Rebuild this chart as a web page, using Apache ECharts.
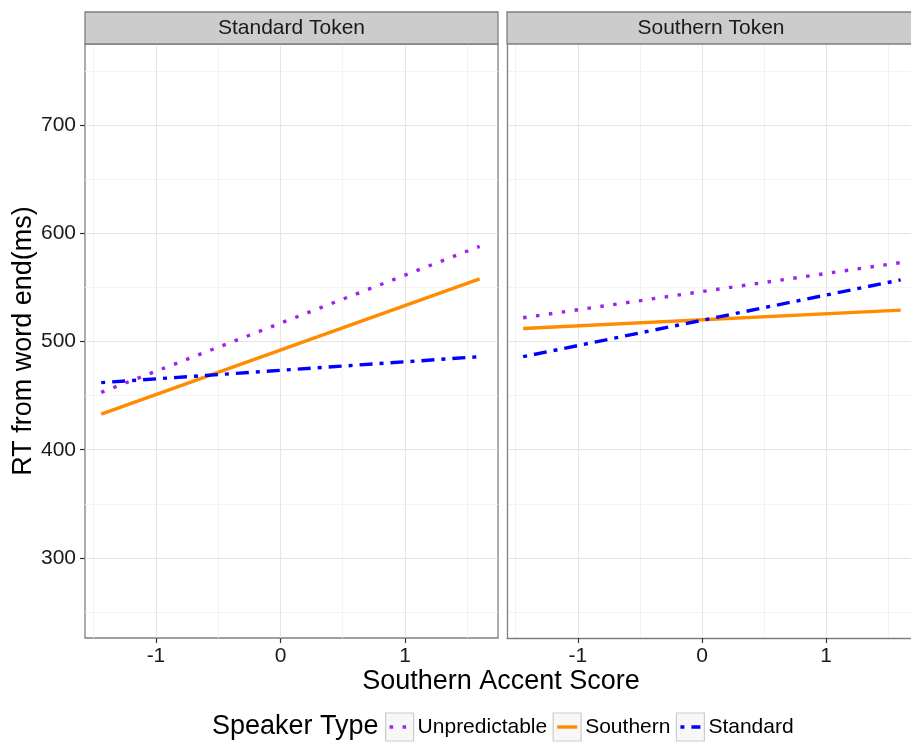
<!DOCTYPE html>
<html><head><meta charset="utf-8">
<script src="https://cdn.jsdelivr.net/npm/echarts@6/dist/echarts.min.js"></script>
<style>html,body{margin:0;padding:0;background:#fff}#c{width:911px;height:744px}</style>
</head><body><div id="c"></div>
<script>
// ---- data ----
const panels = ['Standard Token', 'Southern Token'];
const speakerTypes = ['Unpredictable', 'Southern', 'Standard'];
const xEnds = [-1.44, 1.6];
// fitted line end values per panel: [value at xEnds[0], value at xEnds[1]]
const unpredictableVals = [[453, 588], [522, 573]];
const southernVals = [[433, 558], [512, 529]];
const standardVals = [[462, 486], [486, 557]];
const yTicks = [300, 400, 500, 600, 700];
const yMinor = [250, 350, 450, 550, 650, 750];
const xTicks = [-1, 0, 1];
const xMinor = [-1.5, -0.5, 0.5, 1.5];
const xTitle = 'Southern Accent Score';
const yTitle = 'RT from word end(ms)';
const legendTitle = 'Speaker Type';

// ---- styles ----
const FONT = '"Liberation Sans", Arial, Helvetica, sans-serif';
const seriesValues = [unpredictableVals, southernVals, standardVals];
const seriesStyles = [
  {color: '#A020F0', type: [3.5, 9.5]},
  {color: '#FF8C00', type: 'solid'},
  {color: '#0000FF', type: [4, 7, 13, 7]}
];
const LW = 3.4;
const PX_PER_UNIT = 124.5;
const X_MIN = -1.57, Y_MIN = 226, Y_MAX = 775;
const BORDER = '#7f7f7f';
const gridBoxes = [
  {left: 85, top: 44, width: 413, height: 594, stripCenter: 291.5, box: true},
  {left: 507, top: 44, width: 405, height: 594, stripCenter: 711, box: false}
];

const chart = echarts.init(document.getElementById('c'), null, {renderer: 'canvas'});

const grids = gridBoxes.map(g => ({
  left: g.left, top: g.top, width: g.width, height: g.height,
  show: g.box, borderColor: BORDER, borderWidth: 1.3, backgroundColor: 'transparent',
  containLabel: false
}));

const xAxes = [], yAxes = [];
gridBoxes.forEach((g, i) => {
  const xMax = X_MIN + g.width / PX_PER_UNIT;
  xAxes.push({
    type: 'value', gridIndex: i, min: X_MIN, max: xMax,
    axisLine: {show: !g.box, onZero: false, lineStyle: {color: BORDER, width: 1.3}},
    axisTick: {show: true, length: 5, customValues: xTicks, lineStyle: {color: '#333', width: 1.2}},
    axisLabel: {show: true, customValues: xTicks, fontSize: 21, color: '#1a1a1a', fontFamily: FONT, margin: 8},
    splitLine: {show: true, lineStyle: {color: '#e5e5e5', width: 1.1}},
    z: 2
  });
  xAxes.push({
    type: 'value', gridIndex: i, min: X_MIN, max: xMax,
    axisLine: {show: false, onZero: false},
    axisTick: {show: false, customValues: xMinor},
    axisLabel: {show: false, customValues: xMinor},
    splitLine: {show: true, lineStyle: {color: '#f3f3f3', width: 1}},
    z: 1
  });
  yAxes.push({
    type: 'value', gridIndex: i, min: Y_MIN, max: Y_MAX,
    axisLine: {show: !g.box, onZero: false, lineStyle: {color: BORDER, width: 1.3}},
    axisTick: {show: i === 0, length: 5, customValues: yTicks, lineStyle: {color: '#333', width: 1.2}},
    axisLabel: {show: i === 0, customValues: yTicks, fontSize: 21, color: '#1a1a1a', fontFamily: FONT, margin: 9},
    splitLine: {show: true, lineStyle: {color: '#e5e5e5', width: 1.1}},
    name: i === 0 ? yTitle : '',
    nameLocation: 'middle', nameGap: 47,
    nameTextStyle: {fontSize: 27, color: '#000', fontFamily: FONT},
    z: 2
  });
  yAxes.push({
    type: 'value', gridIndex: i, min: Y_MIN, max: Y_MAX,
    axisLine: {show: false, onZero: false},
    axisTick: {show: false, customValues: yMinor},
    axisLabel: {show: false, customValues: yMinor},
    splitLine: {show: true, lineStyle: {color: '#f3f3f3', width: 1}},
    z: 1
  });
});

const series = [];
speakerTypes.forEach((name, s) => {
  gridBoxes.forEach((g, p) => {
    const v = seriesValues[s][p];
    series.push({
      type: 'line', name: name,
      xAxisIndex: p * 2, yAxisIndex: p * 2,
      data: [[xEnds[0], v[0]], [xEnds[1], v[1]]],
      symbol: 'none', silent: true, animation: false,
      lineStyle: {color: seriesStyles[s].color, width: LW, type: seriesStyles[s].type, cap: 'butt'},
      z: 5
    });
  });
});

// ---- graphics: strips, x title, legend ----
const graphics = [];
gridBoxes.forEach((g, i) => {
  graphics.push({
    type: 'rect', shape: {x: g.left, y: 12, width: g.box ? g.width : g.width + 10, height: 32},
    style: {fill: '#cccccc', stroke: BORDER, lineWidth: 1.3}, z: 10
  });
  graphics.push({
    type: 'text', x: g.stripCenter, y: 28,
    style: {text: panels[i], fill: '#1a1a1a', font: '21px ' + FONT, textAlign: 'center', textVerticalAlign: 'middle'}, z: 11
  });
});
graphics.push({
  type: 'text', x: 501, y: 682,
  style: {text: xTitle, fill: '#000', font: '27px ' + FONT, textAlign: 'center', textVerticalAlign: 'middle'}, z: 11
});

const cv = document.createElement('canvas').getContext('2d');
function tw(t, size) { cv.font = size + 'px ' + FONT; return cv.measureText(t).width; }
const LY = 727;
let lx = 212;
graphics.push({
  type: 'text', x: lx, y: LY,
  style: {text: legendTitle, fill: '#000', font: '27px ' + FONT, textAlign: 'left', textVerticalAlign: 'middle'}, z: 11
});
lx += tw(legendTitle, 27) + 7;
speakerTypes.forEach((name, s) => {
  graphics.push({
    type: 'rect', shape: {x: lx, y: LY - 14, width: 28, height: 28},
    style: {fill: '#f7f7f7', stroke: '#cccccc', lineWidth: 1.2}, z: 10
  });
  const st = seriesStyles[s];
  graphics.push({
    type: 'line', shape: {x1: lx + 4, y1: LY, x2: lx + 24, y2: LY},
    style: {stroke: st.color, lineWidth: LW, lineDash: Array.isArray(st.type) ? st.type : null, lineCap: 'butt'}, z: 11
  });
  lx += 28 + 4;
  graphics.push({
    type: 'text', x: lx, y: LY,
    style: {text: name, fill: '#000', font: '21px ' + FONT, textAlign: 'left', textVerticalAlign: 'middle'}, z: 11
  });
  lx += tw(name, 21) + 6;
});

chart.setOption({
  animation: false,
  backgroundColor: '#ffffff',
  textStyle: {fontFamily: FONT},
  grid: grids,
  xAxis: xAxes,
  yAxis: yAxes,
  series: series,
  graphic: graphics
});
</script>
</body></html>
